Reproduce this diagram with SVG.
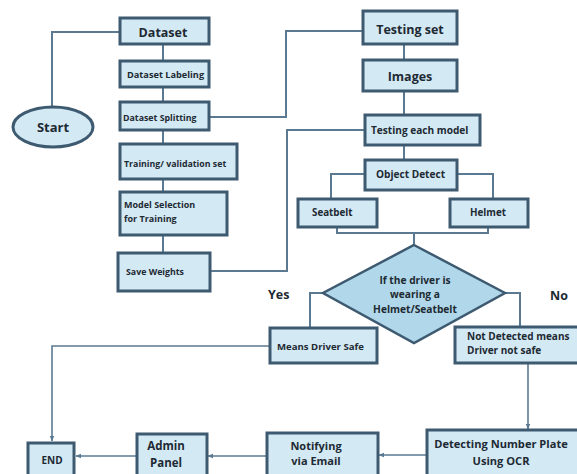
<svg xmlns="http://www.w3.org/2000/svg" width="577" height="474" viewBox="0 0 577 474">
<defs>
<style>
.b{fill:#d3e9f4;stroke:#3e5a70;stroke-width:3}
.d{fill:#b0d8ea;stroke:#3e5a70;stroke-width:2.5}
.c{fill:none;stroke:#5b7a92;stroke-width:2}
.a{fill:none;stroke:#5b7a92;stroke-width:1.6}
text{font-family:"Open Sans","Liberation Sans",sans-serif;font-weight:700;fill:#1e2a33}
.m{text-anchor:middle}
</style>
<marker id="ah" viewBox="0 0 10 10" refX="9" refY="5" markerWidth="6" markerHeight="6" orient="auto" markerUnits="userSpaceOnUse">
<path d="M0,1 L10,5 L0,9 Z" fill="#5b7a92"/>
</marker>
</defs>
<rect width="577" height="474" fill="#ffffff"/>
<g id="connectors">
<polyline class="c" points="52,107 52,32 120,32"/>
<line class="c" x1="163" y1="44" x2="163" y2="253"/>
<polyline class="c" points="209,117 286,117 286,31 363,31"/>
<line class="c" x1="404" y1="44" x2="404" y2="115"/>
<polyline class="c" points="210,271 287,271 287,130 365,130"/>
<line class="c" x1="404" y1="145" x2="404" y2="160"/>
<polyline class="c" points="365,174 331,174 331,199"/>
<polyline class="c" points="457,174 493,174 493,199"/>
<polyline class="c" points="337,227 337,233 488,233 488,227"/>
<line class="c" x1="414" y1="233" x2="414" y2="245"/>
<polyline class="c" points="323,293 310,293 310,328"/>
<polyline class="c" points="505,293 520,293 520,327"/>
<polyline class="a" points="270,346 52,346 52,441" marker-end="url(#ah)"/>
<line class="a" x1="528" y1="363" x2="528" y2="429" marker-end="url(#ah)"/>
<line class="a" x1="427" y1="455" x2="379" y2="455" marker-end="url(#ah)"/>
<line class="a" x1="267" y1="456" x2="208" y2="456" marker-end="url(#ah)"/>
<line class="a" x1="137" y1="456" x2="76" y2="456" marker-end="url(#ah)"/>
</g>
<g id="start"><ellipse class="b" cx="53" cy="127" rx="40" ry="20"/><text class="m" x="53" y="132" font-size="13">Start</text></g>
<g id="dataset"><rect class="b" x="120" y="18" width="89" height="26"/><text class="m" x="163" y="37" font-size="12.5">Dataset</text></g>
<g id="labeling"><rect class="b" x="120" y="61" width="89" height="26"/><text x="127" y="78" font-size="9.2">Dataset Labeling</text></g>
<g id="splitting"><rect class="b" x="120" y="102" width="89" height="28"/><text x="123" y="121" font-size="8.8">Dataset Splitting</text></g>
<g id="trainval"><rect class="b" x="120" y="144" width="117" height="35"/><text x="124" y="167" font-size="8.8">Training/ validation set</text></g>
<g id="modelsel"><rect class="b" x="120" y="192" width="107" height="43"/><text x="124" y="208" font-size="9">Model Selection</text><text x="124" y="222" font-size="9">for Training</text></g>
<g id="saveweights"><rect class="b" x="118" y="253" width="92" height="38"/><text x="126" y="275" font-size="8.8">Save Weights</text></g>
<g id="testingset"><rect class="b" x="363" y="11" width="94" height="33"/><text class="m" x="410" y="34" font-size="12.5">Testing set</text></g>
<g id="images"><rect class="b" x="363" y="60" width="94" height="31"/><text class="m" x="410" y="81" font-size="12.5">Images</text></g>
<g id="testeach"><rect class="b" x="365" y="115" width="115" height="30"/><text x="371" y="134" font-size="10.1">Testing each model</text></g>
<g id="objdetect"><rect class="b" x="365" y="160" width="92" height="30"/><text x="376" y="178" font-size="10.1">Object Detect</text></g>
<g id="seatbelt"><rect class="b" x="298" y="199" width="79" height="28"/><text x="312" y="216" font-size="9.8">Seatbelt</text></g>
<g id="helmet"><rect class="b" x="450" y="199" width="78" height="28"/><text x="470" y="216" font-size="9.8">Helmet</text></g>
<g id="means"><rect class="b" x="270" y="328" width="107" height="35"/><text x="277" y="350" font-size="9.6">Means Driver Safe</text></g>
<g id="notdetected"><rect class="b" x="455" y="327" width="125" height="36"/><text x="467" y="340" font-size="10">Not Detected means</text><text x="467" y="354" font-size="10">Driver not safe</text></g>
<g id="decision"><polygon class="d" points="414,245 505,293 414,343 323,293"/><text class="m" x="415" y="284" font-size="10.2">If the driver is</text><text class="m" x="415" y="298" font-size="10.2">wearing a</text><text class="m" x="415" y="313" font-size="10.2">Helmet/Seatbelt</text></g>
<text x="268" y="299" font-size="12.5" font-weight="600">Yes</text>
<text x="550" y="300" font-size="12.5" font-weight="600">No</text>
<g id="ocr"><rect class="b" x="427" y="430" width="155" height="60"/><text class="m" x="501" y="448" font-size="11.1">Detecting Number Plate</text><text class="m" x="501" y="465" font-size="11.1">Using OCR</text></g>
<g id="notify"><rect class="b" x="267" y="433" width="111" height="60"/><text class="m" x="316" y="450" font-size="11">Notifying</text><text class="m" x="316" y="465" font-size="11">via Email</text></g>
<g id="admin"><rect class="b" x="137" y="434" width="70" height="60"/><text class="m" x="166" y="450" font-size="11.5">Admin</text><text class="m" x="166" y="467" font-size="11.5">Panel</text></g>
<g id="end"><rect class="b" x="28" y="443" width="46" height="50"/><text class="m" x="52" y="464" font-size="10">END</text></g>
</svg>
